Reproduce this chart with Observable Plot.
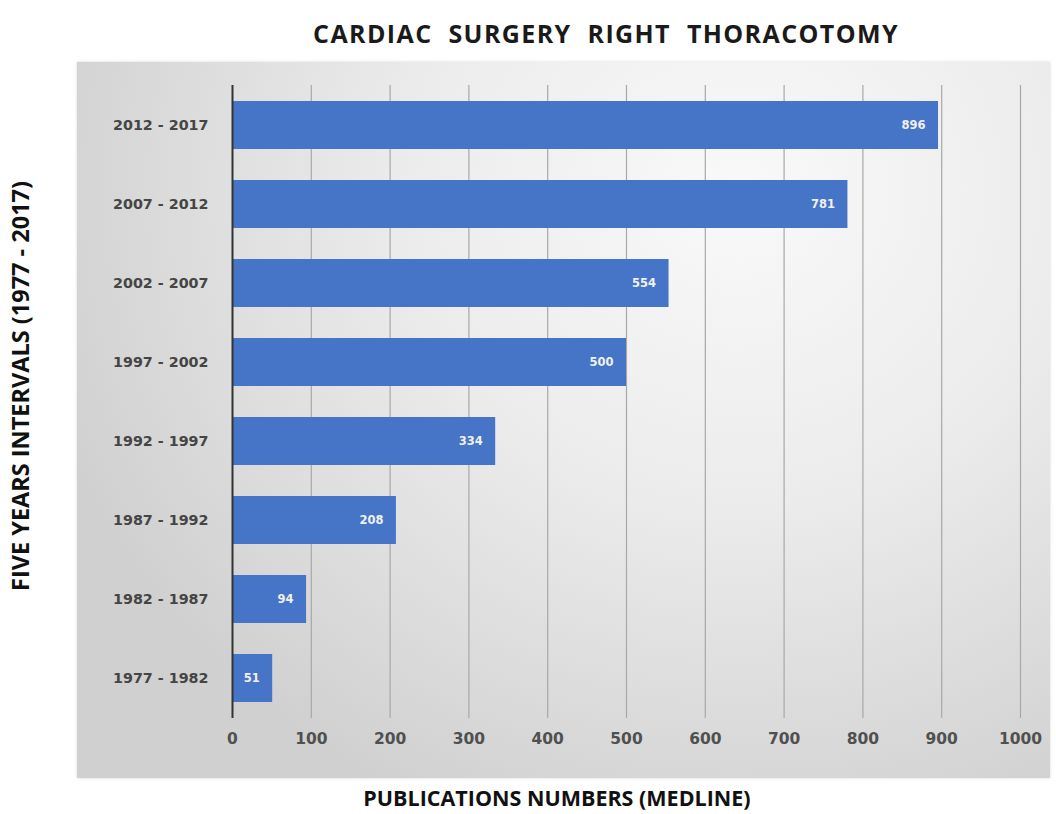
<!DOCTYPE html>
<html>
<head>
<meta charset="utf-8">
<script src="https://cdn.jsdelivr.net/npm/d3@7"></script>
<script src="https://cdn.jsdelivr.net/npm/@observablehq/plot@0.6"></script>
<style>
  html, body { margin: 0; padding: 0; background: #fff; }
  #wrap { position: relative; width: 1056px; height: 814px; overflow: hidden; }
  #bg { position: absolute; left: 77px; top: 62px; width: 973px; height: 716px;
        background: radial-gradient(ellipse 75% 95% at 68% 18%, #f9f9f9 0%, #ececec 45%, #d0d0d0 100%);
        box-shadow: 0 0 3px rgba(0,0,0,0.15); }
  #title { position: absolute; left: 606px; top: 33px; transform: translate(-50%, -50%);
           white-space: nowrap; line-height: 26px;
           font-family: "Open Sans", sans-serif; font-weight: 700; font-size: 25px;
           letter-spacing: 1.4px; word-spacing: 8px; color: #1a1a1a; }
  #chart { position: absolute; left: 0; top: 55px; }
  #xlabel { position: absolute; left: 557px; top: 798px; transform: translate(-50%, -50%);
            white-space: nowrap; line-height: 22px;
            font-family: "Open Sans", sans-serif; font-weight: 700; font-size: 21.5px; color: #111; }
  #ylabel { position: absolute; left: 20px; top: 386px; transform: translate(-50%, -50%) rotate(-90deg);
            white-space: nowrap; line-height: 24px;
            font-family: "Open Sans", sans-serif; font-weight: 700; font-size: 23.5px; color: #111; }
</style>
</head>
<body>
<div id="wrap">
  <div id="bg"></div>
  <div id="title"></div>
  <div id="chart"></div>
  <div id="xlabel"></div>
  <div id="ylabel"></div>
</div>
<script>
const chartTitle = "CARDIAC SURGERY RIGHT THORACOTOMY";
const xTitle = "PUBLICATIONS NUMBERS (MEDLINE)";
const yTitle = "FIVE YEARS INTERVALS (1977 - 2017)";
const intervals = ["2012 - 2017", "2007 - 2012", "2002 - 2007", "1997 - 2002", "1992 - 1997", "1987 - 1992", "1982 - 1987", "1977 - 1982"];
const publications = [896, 781, 554, 500, 334, 208, 94, 51];
const xTicks = [0, 100, 200, 300, 400, 500, 600, 700, 800, 900, 1000];

document.getElementById("title").textContent = chartTitle;
document.getElementById("xlabel").textContent = xTitle;
document.getElementById("ylabel").textContent = yTitle;

const data = intervals.map((k, i) => ({interval: k, value: publications[i]}));

const chart = Plot.plot({
  width: 1056,
  height: 725,
  marginLeft: 232,
  marginRight: 36,
  marginTop: 30,
  marginBottom: 62,
  style: {background: "transparent", fontFamily: "DejaVu Sans, sans-serif"},
  x: {domain: [0, 1000], ticks: xTicks, label: null},
  y: {domain: intervals, paddingInner: 0.39, paddingOuter: 0.195, label: null},
  marks: [
    Plot.ruleX(xTicks.filter(d => d > 0), {stroke: "#a8a8a8", strokeWidth: 1.2}),
    Plot.barX(data, {x: "value", y: "interval", fill: "#4674c6"}),
    Plot.text(data, {x: "value", y: "interval", text: d => String(d.value), textAnchor: "end", dx: -13,
      fill: "#f0f0f0", fontWeight: 700, fontSize: 11.5, fontFamily: "DejaVu Sans, sans-serif"}),
    Plot.ruleX([0], {stroke: "#333", strokeWidth: 2}),
    Plot.axisX({ticks: xTicks, tickFormat: d => String(d), tickSize: 0, tickPadding: 14, fontSize: 15.5, fontWeight: 700,
      color: "#505050", label: null, fontFamily: "DejaVu Sans, sans-serif"}),
    Plot.axisY({tickSize: 0, tickPadding: 24, fontSize: 14.3, fontWeight: 700, color: "#454545", label: null,
      fontFamily: "DejaVu Sans, sans-serif"})
  ]
});
document.getElementById("chart").appendChild(chart);
</script>
</body>
</html>
